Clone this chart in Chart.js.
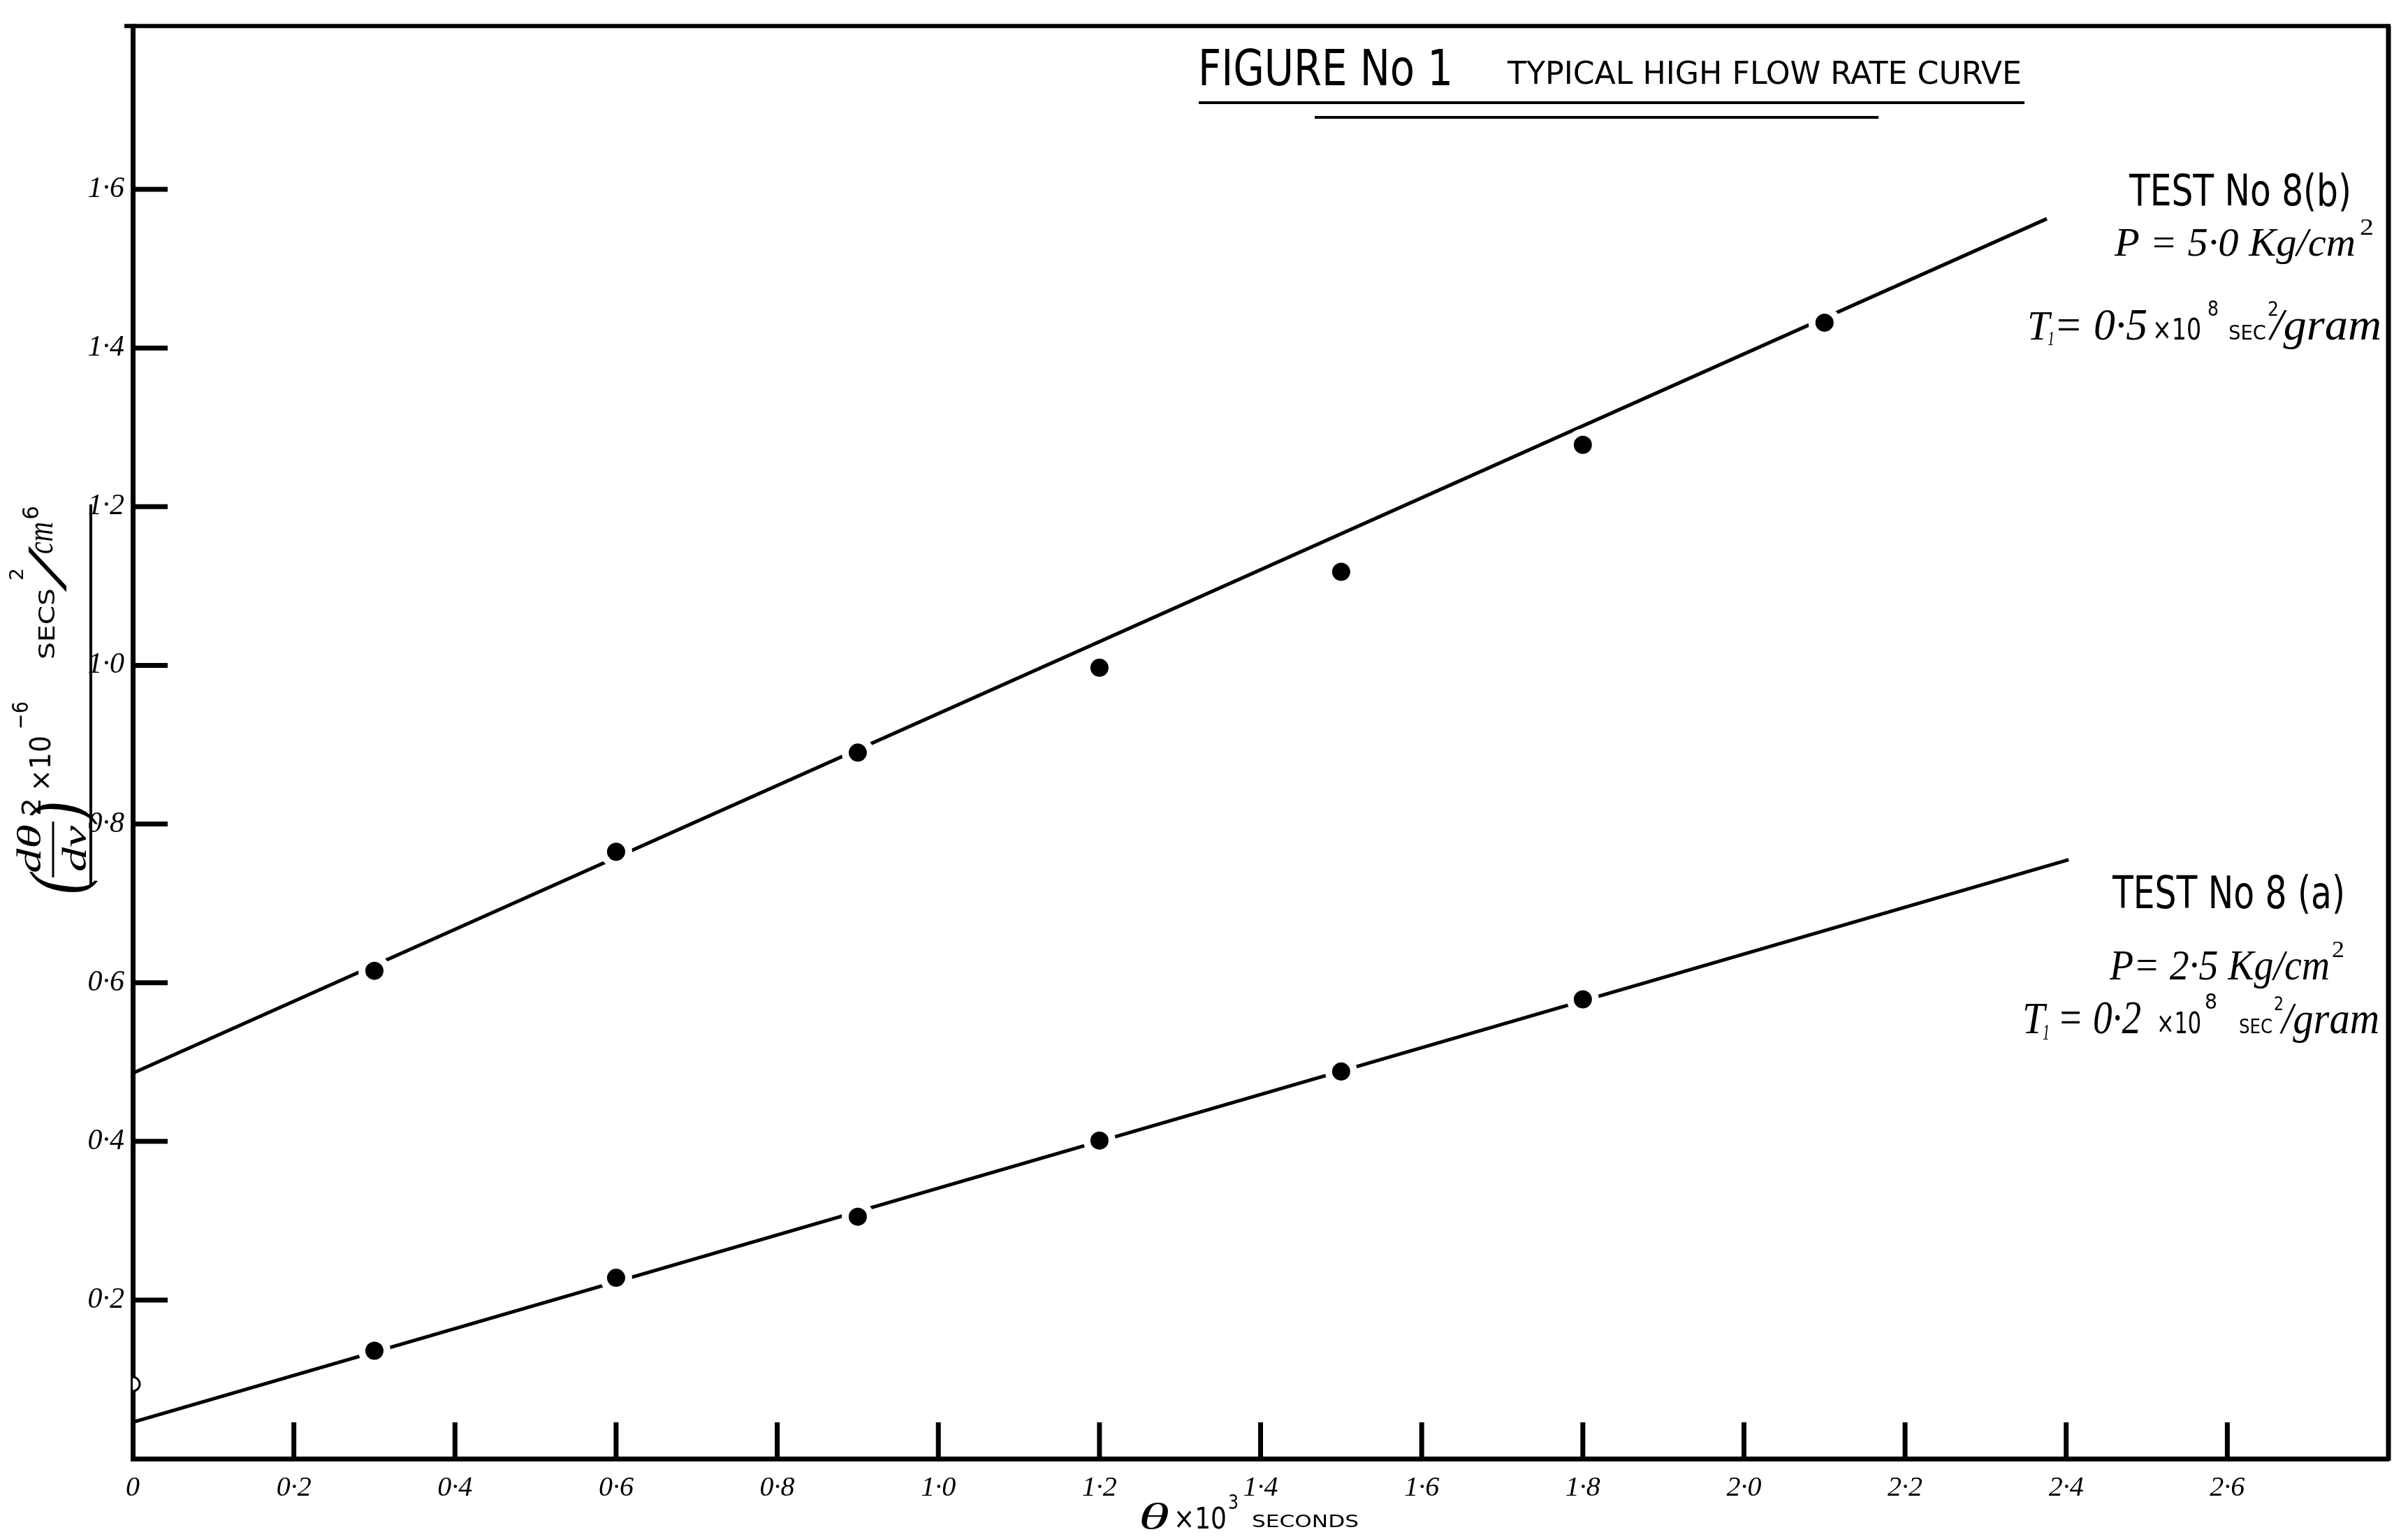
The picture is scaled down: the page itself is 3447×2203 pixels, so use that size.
<!DOCTYPE html>
<html>
<head>
<meta charset="utf-8">
<title>Figure No 1 – Typical high flow rate curve</title>
<script src="https://cdn.jsdelivr.net/npm/chart.js@4.4.1/dist/chart.umd.min.js"></script>
<style>
  html, body { margin: 0; padding: 0; background: #fff; }
  #wrap { width: 3447px; height: 2203px; }
</style>
</head>
<body>
<div id="wrap"><canvas id="fig1" width="3447" height="2203"></canvas></div>
<script>
// --- values: x = θ×10³ s, y = (dθ/dv)²×10⁻⁶ s²/cm⁶ ---
const testB_theta = [0.3, 0.6, 0.9, 1.2, 1.5, 1.8, 2.1];
const testB_value = [0.615, 0.765, 0.89, 0.997, 1.118, 1.278, 1.432];

const testA_theta = [0.3, 0.6, 0.9, 1.2, 1.5, 1.8];
const testA_value = [0.136, 0.228, 0.305, 0.401, 0.488, 0.579];

// the open circle on the y axis (test 8a)
const openA_theta = [0];
const openA_value = [0.094];

// hand-drawn straight lines, as end points
const fitB_theta = [0, 2.376];
const fitB_value = [0.486, 1.563];
const fitA_theta = [0, 2.403];
const fitA_value = [0.046, 0.755];

// axes
const xTickValues = [0, 0.2, 0.4, 0.6, 0.8, 1.0, 1.2, 1.4, 1.6, 1.8, 2.0, 2.2, 2.4, 2.6];
const xTickLabels = ['0', '0·2', '0·4', '0·6', '0·8', '1·0', '1·2', '1·4', '1·6', '1·8', '2·0', '2·2', '2·4', '2·6'];
const yTickValues = [0.2, 0.4, 0.6, 0.8, 1.0, 1.2, 1.4, 1.6];
const yTickLabels = ['0·2', '0·4', '0·6', '0·8', '1·0', '1·2', '1·4', '1·6'];

const NARROW = '"Liberation Sans Narrow", "DejaVu Sans Condensed", "DejaVu Sans", sans-serif';
const SERIF  = '"Liberation Serif", "DejaVu Serif", serif';
const SANS   = '"DejaVu Sans", sans-serif';

const pts = (xs, ys) => xs.map((x, i) => ({ x, y: ys[i] }));
const labelFor = (vals, labels) => v => {
  const i = vals.findIndex(t => Math.abs(t - v) < 1e-6);
  return i < 0 ? '' : labels[i];
};

// text helper: draw s with its left end at x, optionally squeezed/stretched to width w
function put(ctx, s, x, y, font, w) {
  ctx.font = font;
  ctx.textAlign = 'left';
  ctx.textBaseline = 'alphabetic';
  if (w) {
    const nat = ctx.measureText(s).width;
    ctx.save();
    ctx.translate(x, y);
    ctx.scale(w / nat, 1);
    ctx.fillText(s, 0, 0);
    ctx.restore();
  } else {
    ctx.fillText(s, x, y);
  }
}

function line(ctx, x1, y1, x2, y2, lw) {
  ctx.lineWidth = lw;
  ctx.beginPath();
  ctx.moveTo(x1, y1);
  ctx.lineTo(x2, y2);
  ctx.stroke();
}

// frame, inward tick marks and the hand lettering
const figureDecor = {
  id: 'figureDecor',
  afterDraw(chart) {
    const { ctx, chartArea: a, scales: { x, y } } = chart;
    ctx.save();
    ctx.strokeStyle = '#000';
    ctx.fillStyle = '#000';
    ctx.lineCap = 'butt';

    // top and right edges of the frame
    line(ctx, a.left - 12, a.top, a.right + 3, a.top, 6);
    line(ctx, a.right, a.top, a.right, a.bottom + 3, 7);

    // tick marks pointing into the plot
    xTickValues.filter(v => v > 0).forEach(v => {
      const px = x.getPixelForValue(v);
      line(ctx, px, a.bottom, px, a.bottom - 52, 7);
    });
    yTickValues.forEach(v => {
      const py = y.getPixelForValue(v);
      line(ctx, a.left, py, a.left + 50, py, 7);
    });

    // title
    put(ctx, 'FIGURE No 1', 1715, 122, `72px ${NARROW}`, 365);
    put(ctx, 'TYPICAL HIGH FLOW RATE CURVE', 2158, 120, `44px ${NARROW}`, 736);
    line(ctx, 1716, 147, 2898, 147, 4);
    line(ctx, 1882, 168, 2689, 168, 4);

    // test 8(b)
    put(ctx, 'TEST No 8(b)', 3048, 294, `63px ${NARROW}`, 318);
    put(ctx, 'P = 5·0 Kg/cm', 3027, 366, `italic 58px ${SERIF}`, 345);
    put(ctx, '2', 3378, 336, `34px ${SERIF}`, 20);
    put(ctx, 'T', 2902, 486, `italic 60px ${SERIF}`, 32);
    put(ctx, '1', 2931, 494, `italic 30px ${SERIF}`, 10);
    put(ctx, '= 0·5', 2940, 486, `italic 64px ${SERIF}`, 134);
    put(ctx, '×10', 3081, 486, `42px ${SANS}`, 70);
    put(ctx, '8', 3160, 452, `30px ${SANS}`, 16);
    put(ctx, 'SEC', 3190, 486, `28px ${SANS}`, 54);
    put(ctx, '2', 3246, 452, `28px ${SANS}`, 16);
    put(ctx, '/gram', 3250, 486, `italic 64px ${SERIF}`, 159);

    // test 8(a)
    put(ctx, 'TEST No 8 (a)', 3024, 1300, `64px ${NARROW}`, 333);
    put(ctx, 'P= 2·5 Kg/cm', 3020, 1402, `italic 62px ${SERIF}`, 315);
    put(ctx, '2', 3338, 1370, `34px ${SERIF}`, 18);
    put(ctx, 'T', 2895, 1479, `italic 64px ${SERIF}`, 32);
    put(ctx, '1', 2924, 1488, `italic 32px ${SERIF}`, 10);
    put(ctx, '= 0·2', 2945, 1479, `italic 68px ${SERIF}`, 120);
    put(ctx, '×10', 3087, 1479, `42px ${SANS}`, 64);
    put(ctx, '8', 3156, 1444, `30px ${SANS}`, 18);
    put(ctx, 'SEC', 3205, 1479, `28px ${SANS}`, 48);
    put(ctx, '2', 3255, 1446, `26px ${SANS}`, 14);
    put(ctx, '/gram', 3266, 1479, `italic 64px ${SERIF}`, 140);

    // x axis title
    put(ctx, 'θ', 1630, 2188, `italic 52px ${SERIF}`, 44);
    put(ctx, '×10', 1680, 2188, `42px ${SANS}`, 76);
    put(ctx, '3', 1758, 2160, `28px ${SANS}`, 15);
    put(ctx, 'SECONDS', 1792, 2186, `25px ${SANS}`, 153);

    // y axis title, written upwards
    line(ctx, 130, 722, 130, 1267, 4);
    ctx.save();
    ctx.translate(72, 1280);
    ctx.rotate(-Math.PI / 2);
    put(ctx, '(', 0, 45, `italic 108px ${SERIF}`, 28);
    put(ctx, 'dθ', 30, -14, `italic 48px ${SERIF}`, 70);
    line(ctx, 24, 4, 104, 4, 3);
    put(ctx, 'dv', 32, 51, `italic 48px ${SERIF}`, 66);
    put(ctx, ')', 104, 45, `italic 108px ${SERIF}`, 28);
    put(ctx, '2', 112, -14, `38px ${SANS}`, 26);
    put(ctx, '×10', 147, 0, `40px ${SANS}`, 80);
    put(ctx, '−6', 236, -32, `32px ${SANS}`, 40);
    put(ctx, 'SECS', 336, 6, `32px ${SANS}`, 102);
    put(ctx, '2', 449, -39, `26px ${SANS}`, 18);
    put(ctx, '/', 440, 22, `italic 80px ${SERIF}`, 46);
    put(ctx, 'cm', 487, 3, `italic 52px ${SERIF}`, 46);
    put(ctx, '6', 536, -17, `32px ${SANS}`, 20);
    ctx.restore();

    ctx.restore();
  }
};

const dotStyle = {
  type: 'scatter',
  showLine: false,
  pointRadius: 18,
  pointBorderWidth: 10,
  pointBackgroundColor: '#000',
  pointBorderColor: '#fff',
  order: 0,
};
const fitStyle = {
  type: 'scatter',
  showLine: true,
  borderColor: '#000',
  borderWidth: 5,
  pointRadius: 0,
  fill: false,
  order: 2,
};

new Chart(document.getElementById('fig1'), {
  type: 'scatter',
  data: {
    datasets: [
      { ...dotStyle, label: 'Test No 8(b)', data: pts(testB_theta, testB_value) },
      { ...dotStyle, label: 'Test No 8(a)', data: pts(testA_theta, testA_value) },
      { ...dotStyle, label: 'Test No 8(a) open', data: pts(openA_theta, openA_value),
        pointRadius: 10, pointBorderWidth: 3, pointBackgroundColor: '#fff', pointBorderColor: '#000' },
      { ...fitStyle, label: 'fit 8(b)', data: pts(fitB_theta, fitB_value) },
      { ...fitStyle, label: 'fit 8(a)', data: pts(fitA_theta, fitA_value) },
    ],
  },
  options: {
    responsive: false,
    devicePixelRatio: 1,
    animation: false,
    layout: { padding: { top: 24, right: 16, bottom: 0, left: 0 } },
    plugins: { legend: { display: false }, tooltip: { enabled: false } },
    scales: {
      x: {
        type: 'linear',
        min: 0,
        max: 2.8,
        afterBuildTicks: s => { s.ticks = xTickValues.map(v => ({ value: v })); },
        afterFit: s => { s.height = 115; },
        ticks: {
          callback: labelFor(xTickValues, xTickLabels),
          autoSkip: false,
          maxRotation: 0,
          padding: 18,
          color: '#000',
          font: { family: 'Liberation Serif', style: 'italic', size: 40 },
        },
        grid: { display: false, drawTicks: false },
        border: { display: true, color: '#000', width: 7 },
      },
      y: {
        type: 'linear',
        min: 0,
        max: 1.806,
        afterBuildTicks: s => { s.ticks = yTickValues.map(v => ({ value: v })); },
        afterFit: s => { s.width = 190; },
        ticks: {
          callback: labelFor(yTickValues, yTickLabels),
          autoSkip: false,
          padding: 12,
          color: '#000',
          font: { family: 'Liberation Serif', style: 'italic', size: 42 },
        },
        grid: { display: false, drawTicks: false },
        border: { display: true, color: '#000', width: 7 },
      },
    },
  },
  plugins: [figureDecor],
});
</script>
</body>
</html>
